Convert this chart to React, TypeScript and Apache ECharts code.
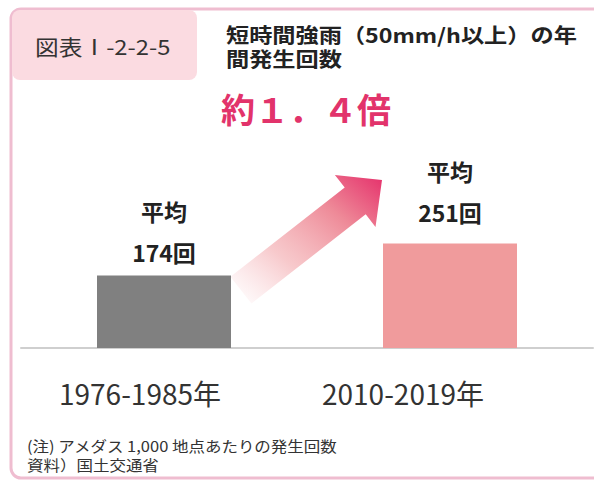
import React, { useEffect, useRef } from "react";
import * as echarts from "echarts";

const categories = ["1976-1985年", "2010-2019年"];
const values = [174, 251];
const barColors = ["#808080", "#f09b9c"];
const avgLabel = "平均";
const unit = "回";
const figureLabel = "図表Ⅰ-2-2-5";
const titleLines = ["短時間強雨（50mm/h以上）の年", "間発生回数"];
const ratioText = "約１．４倍";
const noteLines = ["(注) アメダス 1,000 地点あたりの発生回数", "資料）国土交通省"];

const FONT = '"Noto Sans CJK JP", "Noto Sans", sans-serif';

export default function App() {
  const ref = useRef<HTMLDivElement>(null);
  useEffect(() => {
    if (!ref.current) return;
    const chart = echarts.init(ref.current, null, { renderer: "svg" });
    const labelPads = [48, 94];
    const labelDistances = [3, 11];
    const option: any = {
      animation: false,
      backgroundColor: "#ffffff",
      textStyle: { fontFamily: FONT },
      grid: {
        left: 21,
        right: 1,
        top: 223,
        bottom: 133,
        containLabel: false,
        outerBoundsMode: "none",
      },
      xAxis: {
        type: "category",
        data: categories,
        axisTick: { show: false },
        axisLine: { lineStyle: { color: "#cfcfcf", width: 2 } },
        axisLabel: {
          margin: 31,
          interval: 0,
          formatter: (v: string, i: number) => `{l${i}|${v}}`,
          rich: {
            l0: { fontSize: 28, color: "#333333", fontFamily: FONT, padding: [0, labelPads[0], 0, 0] },
            l1: { fontSize: 28, color: "#333333", fontFamily: FONT, padding: [0, labelPads[1], 0, 0] },
          },
        },
      },
      yAxis: {
        type: "value",
        min: 0,
        max: 300,
        show: false,
        splitLine: { show: false },
      },
      series: [
        {
          type: "bar",
          barWidth: 134,
          data: values.map((v, i) => ({
            value: v,
            itemStyle: { color: barColors[i] },
            label: { distance: labelDistances[i] },
          })),
          label: {
            show: true,
            position: "top",
            formatter: (p: any) => `{a|${avgLabel}}\n{a|${p.value}${unit}}`,
            rich: {
              a: { fontSize: 23, fontWeight: "bold", lineHeight: 41, color: "#222222", fontFamily: FONT },
            },
          },
        },
      ],
      graphic: [
        {
          type: "rect",
          z: -10,
          shape: { x: 11, y: 9, width: 700, height: 469, r: 10 },
          style: { fill: "#ffffff", stroke: "#efbdd0", lineWidth: 3 },
        },
        {
          type: "rect",
          z: -5,
          shape: { x: 12, y: 10, width: 185, height: 70, r: 8 },
          style: { fill: "#fbdbe1" },
        },
        {
          type: "text",
          x: 35,
          y: 46,
          scaleX: 1.13,
          style: {
            text: figureLabel,
            fontSize: 21,
            fill: "#333333",
            fontFamily: FONT,
            verticalAlign: "middle",
          },
        },
        {
          type: "text",
          x: 226,
          y: 34,
          scaleX: 1.16,
          style: {
            text: titleLines[0],
            fontSize: 20,
            fontWeight: "bold",
            fill: "#222222",
            fontFamily: FONT,
            verticalAlign: "middle",
          },
        },
        {
          type: "text",
          x: 226,
          y: 58,
          scaleX: 1.16,
          style: {
            text: titleLines[1],
            fontSize: 20,
            fontWeight: "bold",
            fill: "#222222",
            fontFamily: FONT,
            verticalAlign: "middle",
          },
        },
        {
          type: "text",
          x: 306,
          y: 108,
          style: {
            text: ratioText,
            fontSize: 34,
            fontWeight: "bold",
            fill: "#e2336b",
            fontFamily: FONT,
            align: "center",
            verticalAlign: "middle",
          },
        },
        {
          type: "polygon",
          shape: {
            points: [
              [230.4, 276.8],
              [344.7, 187.5],
              [334.9, 174.9],
              [382, 180],
              [375.5, 226.9],
              [365.7, 214.3],
              [251.4, 303.6],
            ],
          },
          style: {
            fill: new echarts.graphic.LinearGradient(0, 1, 1, 0, [
              { offset: 0, color: "rgba(248,200,205,0)" },
              { offset: 0.35, color: "rgba(243,172,176,0.65)" },
              { offset: 0.7, color: "#ee8a98" },
              { offset: 1, color: "#e5306b" },
            ]),
          },
        },
        {
          type: "text",
          x: 27,
          y: 446,
          scaleX: 1.1,
          style: {
            text: noteLines[0],
            fontSize: 15,
            fill: "#333333",
            fontFamily: FONT,
            verticalAlign: "middle",
          },
        },
        {
          type: "text",
          x: 27,
          y: 465,
          scaleX: 1.1,
          style: {
            text: noteLines[1],
            fontSize: 15,
            fill: "#333333",
            fontFamily: FONT,
            verticalAlign: "middle",
          },
        },
      ],
    };
    chart.setOption(option);
    return () => chart.dispose();
  }, []);
  return (
    <div
      ref={ref}
      style={{ position: "absolute", left: 0, top: 0, width: 594, height: 481 }}
    />
  );
}
